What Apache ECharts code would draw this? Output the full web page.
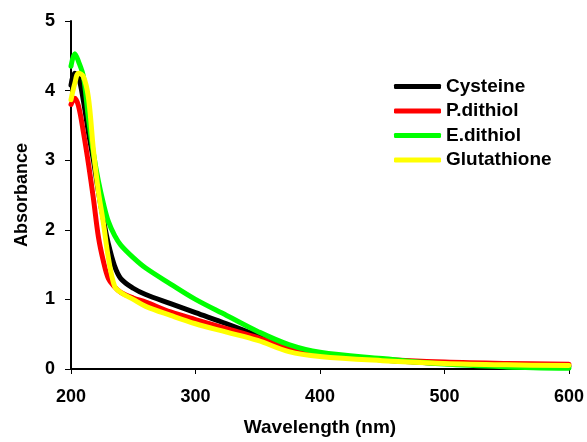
<!DOCTYPE html>
<html>
<head>
<meta charset="utf-8">
<script src="https://cdn.jsdelivr.net/npm/echarts@6/dist/echarts.min.js"></script>
<style>
  html, body { margin: 0; padding: 0; background: #fff; }
  #chart { width: 587px; height: 442px; }
</style>
</head>
<body>
<div id="chart"></div>
<script>
// wavelength samples (nm)
const wavelengths = [200, 203, 206, 210, 214, 218, 222, 226, 230, 235, 240, 250, 260, 280, 300, 325, 350, 375, 400, 450, 500, 550, 600];

const cysteine    = [4.08, 4.25, 4.20, 3.85, 3.40, 3.00, 2.55, 2.15, 1.80, 1.48, 1.30, 1.16, 1.07, 0.94, 0.81, 0.65, 0.48, 0.30, 0.21, 0.13, 0.08, 0.05, 0.04];
const pDithiol    = [3.80, 3.89, 3.78, 3.40, 2.95, 2.45, 1.90, 1.55, 1.30, 1.18, 1.10, 1.02, 0.96, 0.82, 0.71, 0.58, 0.45, 0.29, 0.21, 0.14, 0.10, 0.08, 0.07];
const eDithiol    = [4.35, 4.53, 4.42, 4.20, 3.60, 3.10, 2.70, 2.38, 2.12, 1.92, 1.78, 1.60, 1.45, 1.22, 1.00, 0.77, 0.54, 0.35, 0.24, 0.15, 0.07, 0.03, 0.01];
const glutathione = [3.87, 4.10, 4.25, 4.20, 3.90, 3.15, 2.55, 2.10, 1.60, 1.19, 1.10, 1.00, 0.90, 0.77, 0.65, 0.53, 0.41, 0.25, 0.18, 0.12, 0.08, 0.06, 0.05];

const seriesNames  = ["Cysteine", "P.dithiol", "E.dithiol", "Glutathione"];
const seriesColors = ["#000000", "#ff0000", "#00ff00", "#ffff00"];
const seriesValues = [cysteine, pDithiol, eDithiol, glutathione];

const pairUp = (xs, ys) => xs.map((x, i) => [x, ys[i]]);

let chart, option;

const initChart = () => {
  chart = echarts.init(document.getElementById("chart"), null, { renderer: "canvas" });

  const font = "Liberation Sans, Arial, sans-serif";

  option = {
    animation: false,
    backgroundColor: "#ffffff",
    grid: { left: 71, right: 18, top: 21, bottom: 71.5, containLabel: false },
    legend: {
      orient: "vertical",
      left: 389,
      top: 72,
      itemWidth: 47,
      itemHeight: 5,
      itemGap: 5.5,
      icon: "roundRect",
      data: seriesNames,
      textStyle: { fontFamily: font, fontWeight: "bold", fontSize: 19, color: "#000", lineHeight: 19 }
    },
    xAxis: {
      type: "value",
      min: 200, max: 600, interval: 100,
      name: "Wavelength (nm)",
      nameLocation: "middle",
      nameGap: 49,
      nameTextStyle: { fontFamily: font, fontWeight: "bold", fontSize: 19, color: "#000" },
      axisLine: { show: true, lineStyle: { color: "#000", width: 2 } },
      axisTick: { show: true, inside: false, length: 5, lineStyle: { color: "#000", width: 1 } },
      axisLabel: { fontFamily: font, fontWeight: "bold", fontSize: 18, color: "#000", margin: 19 },
      splitLine: { show: false }
    },
    yAxis: {
      type: "value",
      min: 0, max: 5, interval: 1,
      name: "Absorbance",
      nameLocation: "middle",
      nameGap: 40,
      nameRotate: 90,
      nameTextStyle: { fontFamily: font, fontWeight: "bold", fontSize: 18, color: "#000" },
      axisLine: { show: true, lineStyle: { color: "#000", width: 2 } },
      axisTick: { show: true, inside: false, length: 6, lineStyle: { color: "#000", width: 1 } },
      axisLabel: { fontFamily: font, fontWeight: "bold", fontSize: 18, color: "#000", margin: 16 },
      splitLine: { show: false }
    },
    series: seriesNames.map((name, i) => ({
      name: name,
      type: "line",
      data: pairUp(wavelengths, seriesValues[i]),
      smooth: 0.35,
      showSymbol: false,
      symbol: "none",
      color: seriesColors[i],
      lineStyle: { color: seriesColors[i], width: 5, cap: "round", join: "round" }
    }))
  };

  chart.setOption(option);
};

document.addEventListener("DOMContentLoaded", function () {
  initChart();
});

window.addEventListener("resize", function () {
  if (chart) chart.resize();
});
</script>
</body>
</html>
